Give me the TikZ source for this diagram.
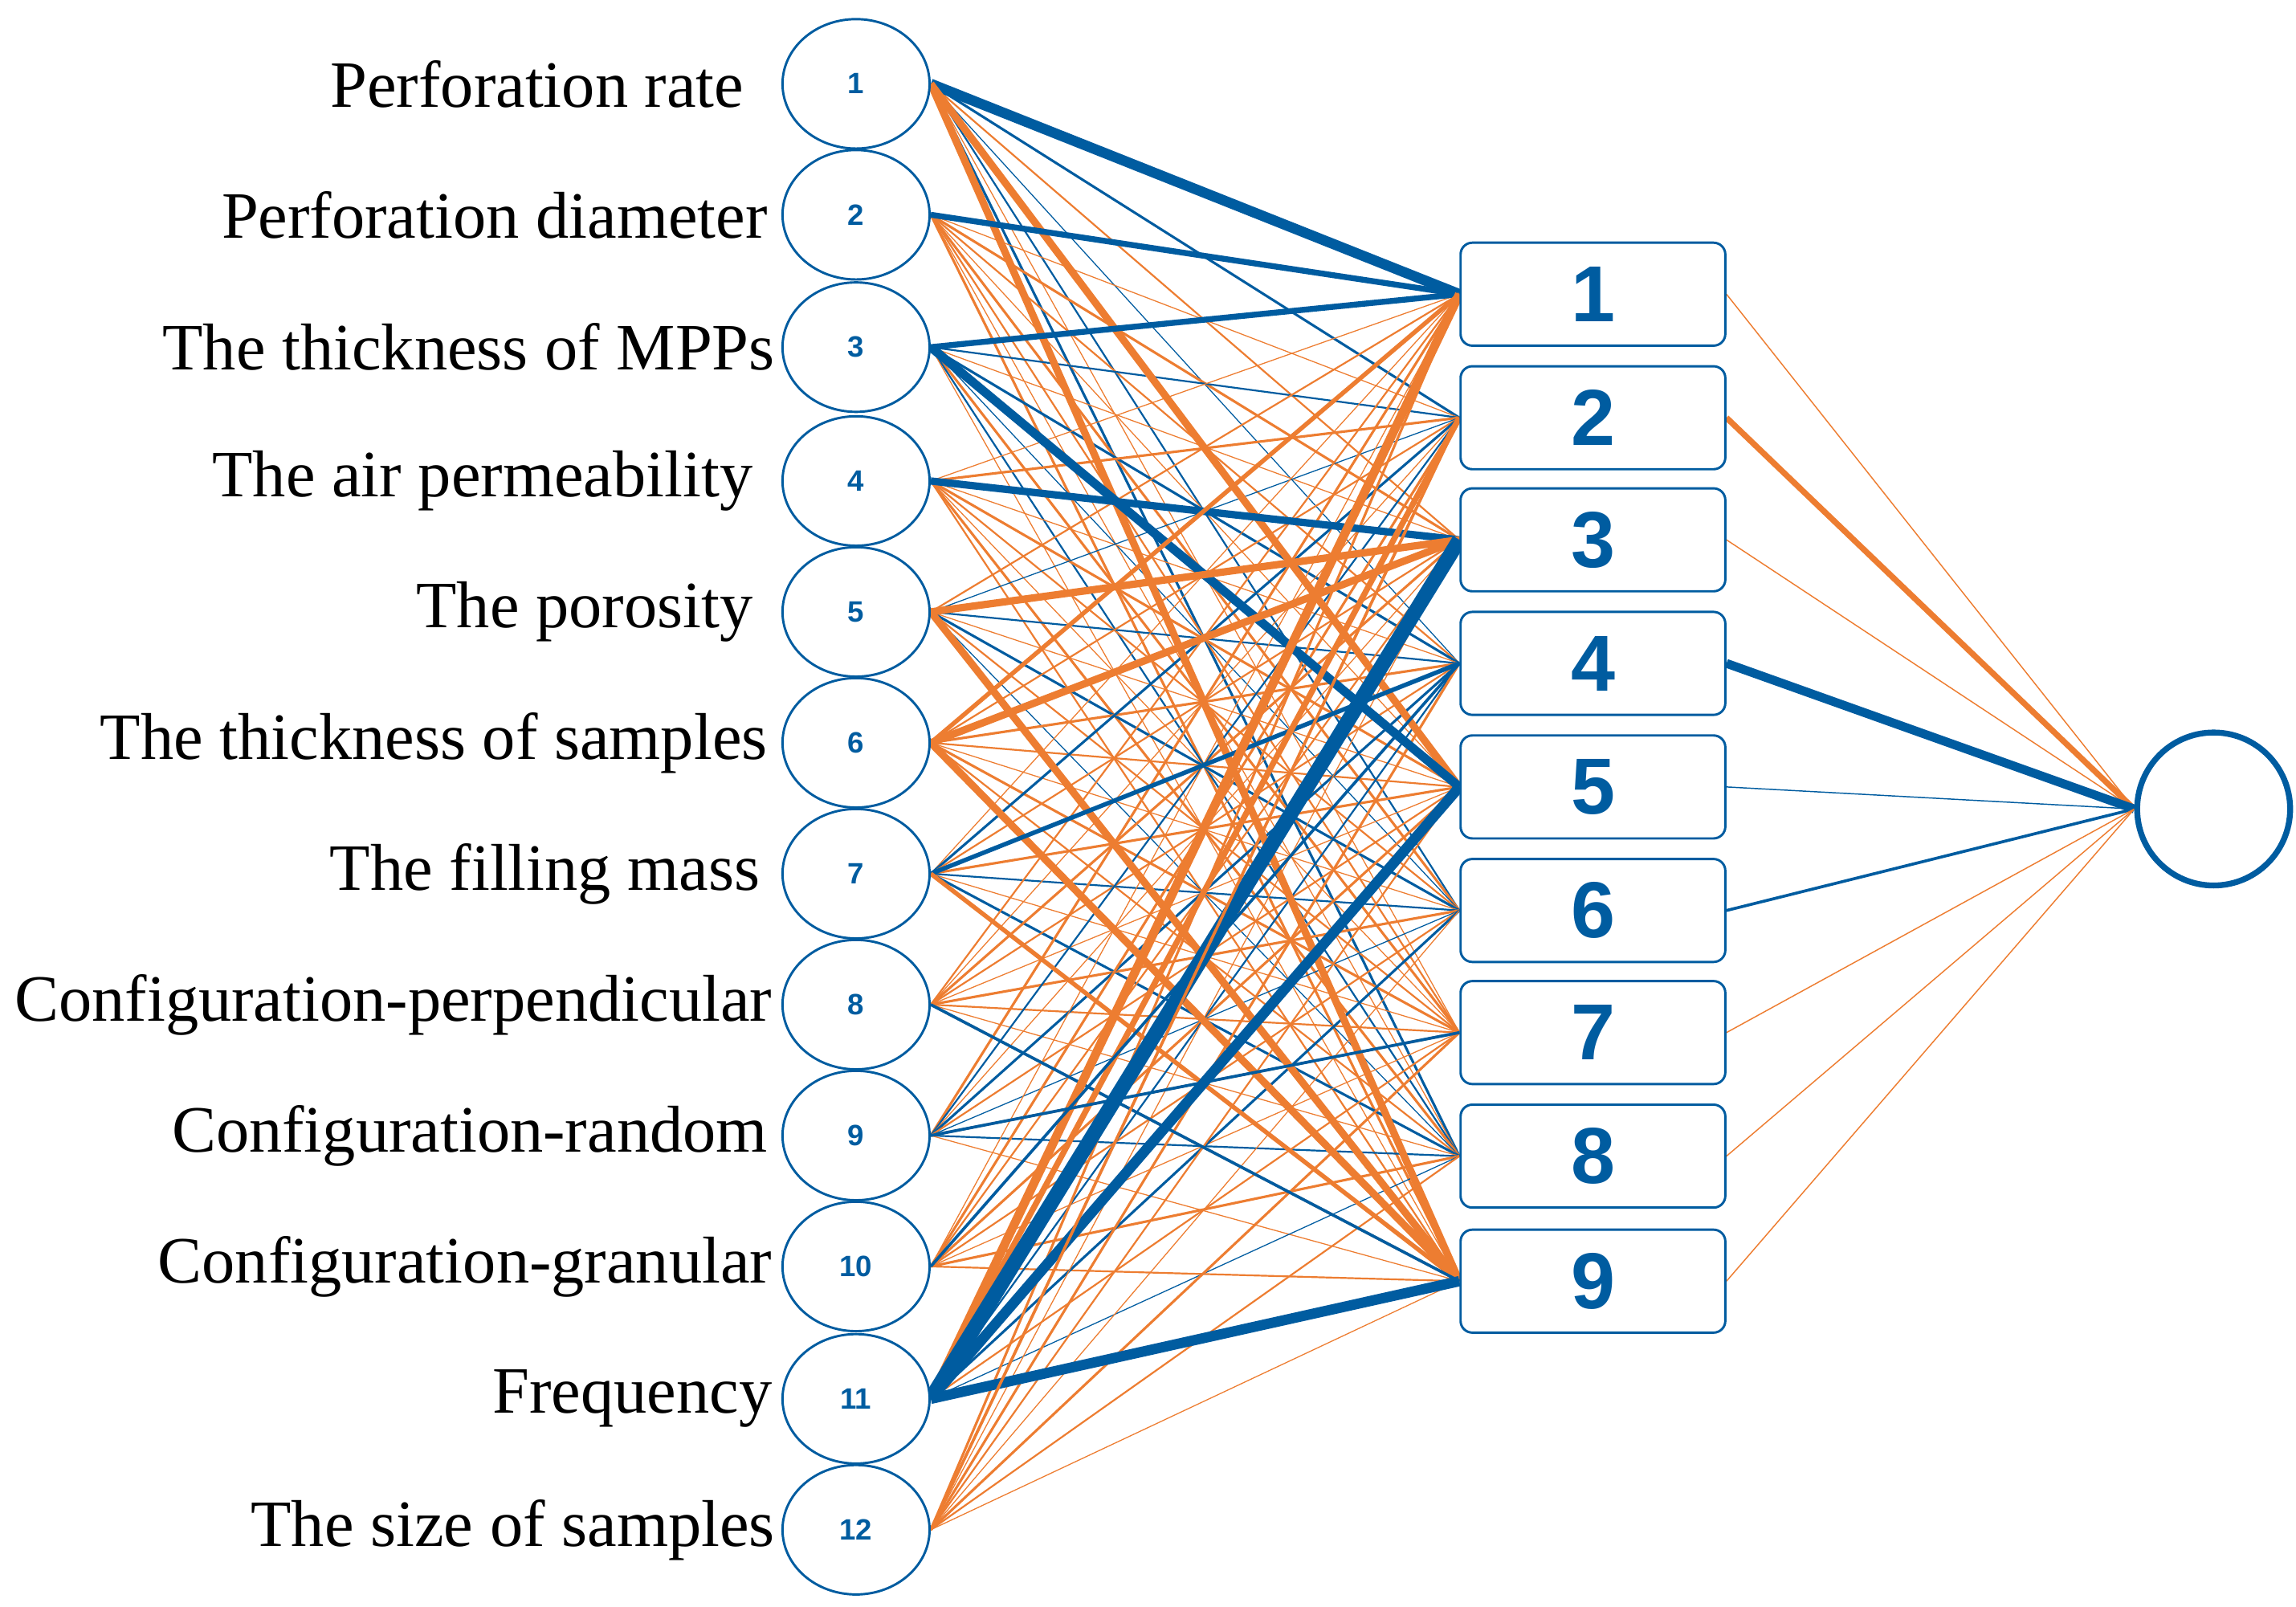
\documentclass[tikz,border=0pt]{standalone}
\usepackage{fontspec}
\setmainfont{Liberation Serif}
\newfontfamily\sansf{Liberation Sans}
\usetikzlibrary{backgrounds,shapes.geometric}
\definecolor{nb}{RGB}{0,92,160}
\definecolor{no}{RGB}{237,125,49}
\begin{document}
\begin{tikzpicture}[x=1pt,y=-1pt,
 inn/.style={ellipse,draw=nb,line width=1.6pt,fill=white,minimum width=100pt,minimum height=88pt,inner sep=0pt,font=\sansf\bfseries\fontsize{20}{22}\selectfont,text=nb},
 hid/.style={rectangle,rounded corners=8pt,draw=nb,line width=1.6pt,fill=white,minimum width=180pt,minimum height=70pt,inner sep=0pt,font=\sansf\bfseries\fontsize{54}{56}\selectfont,text=nb},
 lab/.style={anchor=east,font=\fontsize{45}{48}\selectfont,inner sep=0pt},
 e/.style={line width=#1}]
\useasboundingbox (0,0) rectangle (1561,1092);
\foreach \i/\y/\x/\t in {1/57/506/Perforation rate,2/146/522/Perforation diameter,3/236/527/The thickness of MPPs,4/327/512/The air permeability,5/416/512/The porosity,6/505/522/The thickness of samples,7/594/517/The filling mass,8/683/525/Configuration-perpendicular,9/772/522/Configuration-random,10/861/525/Configuration-granular,11/951/525/Frequency,12/1040/527/The size of samples}{
 \node[inn] (in\i) at (582,\y) {\i};
 \node[lab] (l\i) at (\x,\y) {\t};
}
\foreach \j/\y in {1/200,2/284,3/367,4/451,5/535,6/619,7/702,8/786,9/871}{
 \node[hid] (h\j) at (1083,\y) {\j};
}
\node[circle,draw=nb,line width=4pt,minimum size=104pt,inner sep=0pt] (out) at (1505,550) {};
\begin{pgfonlayer}{background}
\foreach \i in {1,...,12}{\foreach \j in {1,...,9}{
 \pgfmathtruncatemacro\c{mod(\i*\j+\i+2*\j,2)}
 \pgfmathsetmacro\w{0.7+0.5*mod(\i+2*\j,3)}
 \ifnum\c=0 \draw[no,e=\w pt] (in\i.east) -- (h\j.west);
 \else \draw[nb,e=\w pt] (in\i.east) -- (h\j.west);\fi
}}
\foreach \a/\b/\c/\w in {1/1/nb/7,1/5/no/5,1/9/no/5,2/1/nb/4,3/1/nb/4,3/5/nb/6,4/3/nb/5,5/3/no/5,5/9/no/5,6/3/no/5,6/1/no/3,6/9/no/5,7/4/nb/3,7/9/no/3,8/9/nb/2,11/1/no/6,11/2/no/4,11/3/nb/10,11/5/nb/7,11/9/nb/7,10/4/nb/2,12/2/no/2,9/7/nb/2}{
 \draw[\c,e=\w pt] (in\a.east) -- (h\b.west);
}
\foreach \j/\c/\w in {1/no/0.8,2/no/4,3/no/0.8,4/nb/6,5/nb/0.8,6/nb/2,7/no/0.8,8/no/0.8,9/no/0.8}{
 \draw[\c,e=\w pt] (h\j.east) -- (out.west);
}
\end{pgfonlayer}
\end{tikzpicture}
\end{document}
